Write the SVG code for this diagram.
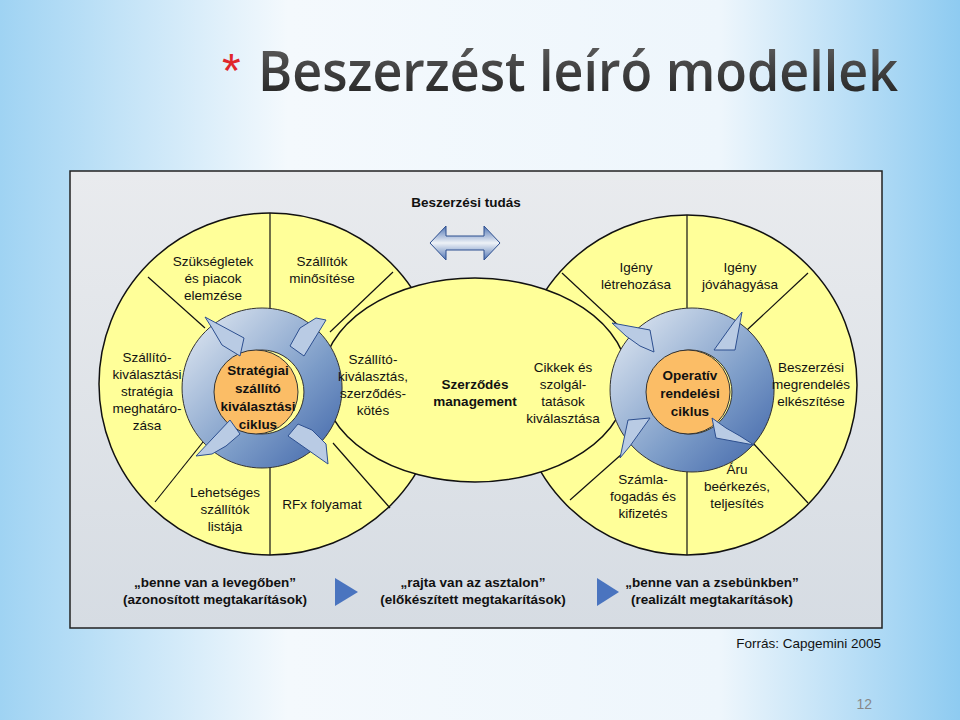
<svg xmlns="http://www.w3.org/2000/svg" width="960" height="720" viewBox="0 0 960 720">
<defs>
<linearGradient id="bg" x1="0" y1="0" x2="1" y2="0"><stop offset="0" stop-color="#9fd3f3"/><stop offset="0.3" stop-color="#f4f9fd"/><stop offset="0.75" stop-color="#eef6fc"/><stop offset="1" stop-color="#8ecbf1"/></linearGradient>
<linearGradient id="frame" x1="0" y1="0" x2="0" y2="1"><stop offset="0" stop-color="#e9ebee"/><stop offset="1" stop-color="#d6dce3"/></linearGradient>
<linearGradient id="ring" x1="0" y1="0" x2="1" y2="1"><stop offset="0" stop-color="#e8eef5"/><stop offset="0.6" stop-color="#7c9cc8"/><stop offset="1" stop-color="#3e63a8"/></linearGradient>
<linearGradient id="dbl" x1="0" y1="0" x2="0" y2="1"><stop offset="0" stop-color="#4f74b4"/><stop offset="0.5" stop-color="#eef2f7"/><stop offset="1" stop-color="#4f74b4"/></linearGradient>
<linearGradient id="title" x1="0" y1="0" x2="0" y2="1"><stop offset="0" stop-color="#6a6a6a"/><stop offset="1" stop-color="#1a1a1a"/></linearGradient>
</defs>
<style>
.t{font-family:"Liberation Sans",Arial,sans-serif;font-size:13.5px;fill:#111;text-anchor:middle}
.b{font-weight:bold}
.o{fill:#ffff99;stroke:#111;stroke-width:1.5}
.sp{stroke:#111;stroke-width:1.2}
.or{fill:#fbbd66;stroke:#333;stroke-width:1}
.rg{fill:url(#ring);stroke:#333;stroke-width:1;fill-rule:evenodd}
.ah{fill:#b9cbe4;stroke:#2d4f8f;stroke-width:1}
</style>
<rect width="960" height="720" fill="url(#bg)"/>
<g id="title">
<text x="222" y="87" font-family="Liberation Sans,sans-serif" font-size="48" fill="#e0262b">*</text>
<text x="258" y="91" font-family="Open Sans,sans-serif" font-weight="600" font-size="56" fill="url(#title)" textLength="640" lengthAdjust="spacingAndGlyphs">Beszerzést leíró modellek</text>
</g>
<rect x="70" y="171" width="812" height="457" fill="url(#frame)" stroke="#222" stroke-width="1.5"/>
<g id="left-circle">
<circle class="o" cx="270" cy="384" r="171"/>
<line class="sp" x1="270" y1="213" x2="270" y2="312"/><line class="sp" x1="270" y1="458" x2="270" y2="555"/>
<line class="sp" x1="148" y1="277" x2="205" y2="328"/><line class="sp" x1="393" y1="272" x2="330" y2="332"/>
<line class="sp" x1="155" y1="502" x2="207" y2="437"/><line class="sp" x1="390" y1="508" x2="333" y2="443"/>
</g>
<g id="right-circle">
<circle class="o" cx="687" cy="385" r="170"/>
<line class="sp" x1="687" y1="215" x2="687" y2="310"/><line class="sp" x1="687" y1="465" x2="687" y2="555"/>
<line class="sp" x1="562" y1="273" x2="620" y2="327"/><line class="sp" x1="808" y1="273" x2="747" y2="330"/>
<line class="sp" x1="570" y1="500" x2="623" y2="453"/><line class="sp" x1="808" y1="503" x2="753" y2="443"/>
</g>
<g id="middle">
<ellipse class="o" cx="475" cy="380" rx="153" ry="102"/>
</g>
<g id="left-cycle">
<path class="rg" d="M262,308 a80,80 0 1,0 0.1,0 Z M262,350 a42,42 0 1,1 -0.1,0 Z"/>
<circle class="or" cx="256" cy="392" r="42"/>
<polygon class="ah" points="205,317 244,338 240,356 222,345 212,328"/>
<polygon class="ah" points="326,320 304,356 290,346 300,328 316,318"/>
<polygon class="ah" points="328,464 288,436 298,424 312,430 326,444"/>
<polygon class="ah" points="196,456 230,420 240,434 226,446 212,454"/>
<text class="t b"><tspan x="258" y="375">Stratégiai</tspan><tspan x="258" y="393">szállító</tspan><tspan x="258" y="411">kiválasztási</tspan><tspan x="258" y="429">ciklus</tspan></text>
</g>
<g id="right-cycle">
<path class="rg" d="M692,308 a82,82 0 1,0 0.1,0 Z M690,350 a42,42 0 1,1 -0.1,0 Z"/>
<circle class="or" cx="688" cy="392" r="42"/>
<polygon class="ah" points="612,323 650,330 654,352 640,346 626,336"/>
<polygon class="ah" points="742,312 735,350 714,350 724,336 734,322"/>
<polygon class="ah" points="754,445 716,438 712,418 726,428 740,436"/>
<polygon class="ah" points="620,458 628,420 650,418 640,432 630,446"/>
<text class="t b"><tspan x="690" y="380">Operatív</tspan><tspan x="690" y="398">rendelési</tspan><tspan x="690" y="416">ciklus</tspan></text>
</g>
<g id="labels">
<text class="t"><tspan x="213" y="266">Szükségletek</tspan><tspan x="213" y="283">és piacok</tspan><tspan x="213" y="300">elemzése</tspan></text>
<text class="t"><tspan x="322" y="266">Szállítók</tspan><tspan x="322" y="283">minősítése</tspan></text>
<text class="t"><tspan x="147" y="362">Szállító-</tspan><tspan x="147" y="379">kiválasztási</tspan><tspan x="147" y="396">stratégia</tspan><tspan x="147" y="413">meghatáro-</tspan><tspan x="147" y="430">zása</tspan></text>
<text class="t"><tspan x="373" y="364">Szállító-</tspan><tspan x="373" y="381">kiválasztás,</tspan><tspan x="373" y="398">szerződés-</tspan><tspan x="373" y="415">kötés</tspan></text>
<text class="t"><tspan x="225" y="497">Lehetséges</tspan><tspan x="225" y="514">szállítók</tspan><tspan x="225" y="531">listája</tspan></text>
<text class="t" x="322" y="509">RFx folyamat</text>
<text class="t b"><tspan x="475" y="389">Szerződés</tspan><tspan x="475" y="406">management</tspan></text>
<text class="t"><tspan x="563" y="372">Cikkek és</tspan><tspan x="563" y="389">szolgál-</tspan><tspan x="563" y="406">tatások</tspan><tspan x="563" y="423">kiválasztása</tspan></text>
<text class="t"><tspan x="636" y="272">Igény</tspan><tspan x="636" y="289">létrehozása</tspan></text>
<text class="t"><tspan x="740" y="272">Igény</tspan><tspan x="740" y="289">jóváhagyása</tspan></text>
<text class="t"><tspan x="811" y="372">Beszerzési</tspan><tspan x="811" y="389">megrendelés</tspan><tspan x="811" y="406">elkészítése</tspan></text>
<text class="t"><tspan x="643" y="484">Számla-</tspan><tspan x="643" y="501">fogadás és</tspan><tspan x="643" y="518">kifizetés</tspan></text>
<text class="t"><tspan x="737" y="474">Áru</tspan><tspan x="737" y="491">beérkezés,</tspan><tspan x="737" y="508">teljesítés</tspan></text>
</g>
<g id="knowledge">
<text class="t b" x="466" y="207">Beszerzési tudás</text>
<polygon points="430,243 446,226 446,236 484,236 484,226 500,243 484,260 484,250 446,250 446,260" fill="url(#dbl)" stroke="#2d4f8f" stroke-width="1"/>
</g>
<g id="stages">
<text class="t b" font-size="14"><tspan x="215" y="587">„benne van a levegőben”</tspan><tspan x="215" y="604">(azonosított megtakarítások)</tspan></text>
<polygon points="335,578 358,592 335,606" fill="#4a74bf"/>
<text class="t b" font-size="14"><tspan x="473" y="587">„rajta van az asztalon”</tspan><tspan x="473" y="604">(előkészített megtakarítások)</tspan></text>
<polygon points="597,578 619,592 597,606" fill="#4a74bf"/>
<text class="t b" font-size="14"><tspan x="712" y="587">„benne van a zsebünkben”</tspan><tspan x="712" y="604">(realizált megtakarítások)</tspan></text>
</g>
<text class="t" x="881" y="648" style="text-anchor:end" font-size="14">Forrás: Capgemini 2005</text>
<text x="872" y="709" font-family="Liberation Sans,sans-serif" font-size="14" fill="#888" text-anchor="end">12</text>
</svg>
